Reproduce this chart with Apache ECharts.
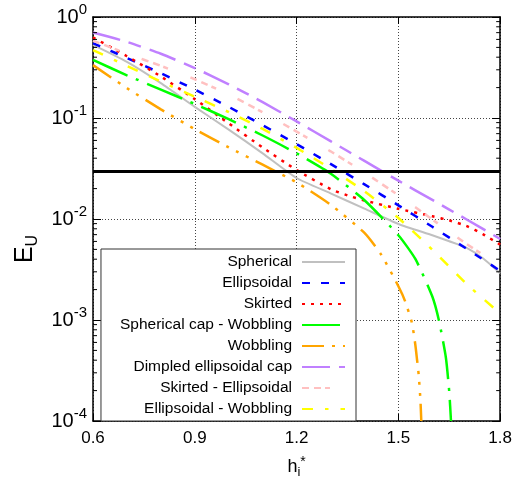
<!DOCTYPE html>
<html>
<head>
<meta charset="utf-8">
<script src="https://cdn.jsdelivr.net/npm/echarts@6/dist/echarts.min.js"></script>
<style>
  html, body { margin: 0; padding: 0; background: #fff; }
  #chart { width: 515px; height: 484px; }
</style>
</head>
<body>
<div id="chart"></div>
<script>
// Dimensionless height h_i* against the error measure E_U, one curve per shape model.
const FONT = '"Liberation Sans", Arial, sans-serif';

const hGrid = [0.6, 0.7, 0.8, 0.9, 1.0, 1.1, 1.2, 1.3, 1.4, 1.5, 1.6, 1.7, 1.8];

const hSpherical = [0.6, 0.7, 0.8, 0.9, 1.0, 1.1, 1.2, 1.3, 1.4, 1.5, 1.6, 1.65, 1.7, 1.75, 1.8];
const euSpherical = [0.5287, 0.3589, 0.2212, 0.1288, 0.0767, 0.0447, 0.02546, 0.01796, 0.01267, 0.00893, 0.0069, 0.00603, 0.00521, 0.00406, 0.0029];

const euEllipsoidal = [0.5507, 0.3927, 0.277, 0.1911, 0.1288, 0.0849, 0.0551, 0.0351, 0.02204, 0.01365, 0.00837, 0.0051, 0.00307];

const hSkirted = [0.6, 0.7, 0.8, 0.9, 1.0, 1.1, 1.2, 1.3, 1.35, 1.4, 1.5, 1.6, 1.65, 1.7, 1.75, 1.8];
const euSkirted = [0.6272, 0.409, 0.2577, 0.1536, 0.0885, 0.051, 0.03055, 0.01978, 0.01713, 0.01527, 0.01261, 0.01065, 0.00969, 0.00854, 0.00705, 0.00557];

const hCapWobbling = [0.6, 0.7, 0.8, 0.9, 1.0, 1.1, 1.2, 1.3, 1.4, 1.5, 1.55, 1.6, 1.62, 1.64, 1.65, 1.655];
const euCapWobbling = [0.3755, 0.2648, 0.1911, 0.1378, 0.0973, 0.0671, 0.0447, 0.02818, 0.01534, 0.0069, 0.00402, 0.001707, 0.000972, 0.000423, 0.000192, 0.0001];

const hWobbling = [0.6, 0.7, 0.8, 0.9, 1.0, 1.1, 1.2, 1.3, 1.4, 1.45, 1.5, 1.52, 1.54, 1.55, 1.555, 1.56, 1.565, 1.5675];
const euWobbling = [0.334, 0.1976, 0.1218, 0.0776, 0.0512, 0.0345, 0.023, 0.01386, 0.00729, 0.0044, 0.00216, 0.00153, 0.00093, 0.000566, 0.000404, 0.000282, 0.00016, 0.0001];

const euDimpled = [0.702, 0.567, 0.4326, 0.3122, 0.2153, 0.1435, 0.0925, 0.059, 0.03758, 0.02396, 0.01545, 0.00995, 0.00634];
const euSkirtedEllipsoidal = [0.5824, 0.4346, 0.3281, 0.242, 0.1708, 0.1138, 0.0733, 0.0468, 0.02882, 0.01717, 0.00989, 0.00569, 0.00343];
const euEllipsoidalWobbling = [0.4703, 0.3281, 0.2298, 0.1621, 0.1144, 0.0779, 0.0506, 0.03153, 0.01878, 0.01023, 0.00497, 0.00229, 0.00116];

const threshold = 0.03;

const xMin = 0.6, xMax = 1.8, xStep = 0.3;
const yMin = 1e-4, yMax = 1;
const minorMultipliers = [2, 3, 4, 5, 6, 7, 8, 9];
const decadeExponents = [-4, -3, -2, -1];

const curves = [
  { name: 'Spherical', h: hSpherical, eu: euSpherical, color: '#c0c0c0', width: 2, dash: 'solid' },
  { name: 'Ellipsoidal', h: hGrid, eu: euEllipsoidal, color: '#0000ff', width: 2.5, dash: [8, 11] },
  { name: 'Skirted', h: hSkirted, eu: euSkirted, color: '#ff0000', width: 2.5, dash: [3, 6] },
  { name: 'Spherical cap - Wobbling', h: hCapWobbling, eu: euCapWobbling, color: '#00ff00', width: 2.5, dash: [38, 9, 3, 9] },
  { name: 'Wobbling', h: hWobbling, eu: euWobbling, color: '#ffa500', width: 2.5, dash: [22, 8, 3, 8, 3, 8, 3, 8] },
  { name: 'Dimpled ellipsoidal cap', h: hGrid, eu: euDimpled, color: '#c080ff', width: 2.5, dash: [28, 9, 13, 9] },
  { name: 'Skirted - Ellipsoidal', h: hGrid, eu: euSkirtedEllipsoidal, color: '#ffc0c0', width: 2.5, dash: [7, 5, 7, 4, 5, 24] },
  { name: 'Ellipsoidal - Wobbling', h: hGrid, eu: euEllipsoidalWobbling, color: '#ffff00', width: 2.5, dash: [11, 12, 3.5, 12, 11, 12] }
];

// Minor tick values of the logarithmic axis (2..9 within each decade)
const minorTickValues = [];
decadeExponents.forEach(function (e) {
  minorMultipliers.forEach(function (m) { minorTickValues.push([xMin, m * Math.pow(10, e)]); });
});

const curveSeries = curves.map(function (c) {
  return {
    name: c.name,
    type: 'line',
    data: c.h.map(function (h, i) { return [h, c.eu[i]]; }),
    showSymbol: false,
    symbol: 'none',
    smooth: 0.2,
    clip: true,
    lineStyle: { color: c.color, width: c.width, type: c.dash },
    itemStyle: { color: c.color },
    emphasis: { disabled: true }
  };
});

const tickLine = { stroke: '#000', lineWidth: 1 };

const option = {
  animation: false,
  backgroundColor: '#fff',
  textStyle: { fontFamily: FONT },
  grid: { left: 93, right: 13, top: 17, bottom: 58, containLabel: false },
  legend: {
    data: curves.map(function (c) { return c.name; }),
    orient: 'vertical',
    align: 'right',
    right: 159,
    top: 249,
    padding: [5, 10, 4, 19],
    itemWidth: 43,
    itemHeight: 14,
    itemGap: 5,
    backgroundColor: '#fff',
    borderColor: '#333',
    borderWidth: 1,
    borderRadius: 0,
    selectedMode: false,
    itemStyle: { opacity: 0 },
    textStyle: { fontFamily: FONT, fontSize: 15.5, color: '#000', padding: [0, 5, 0, 0] }
  },
  xAxis: [
    {
      type: 'value', position: 'bottom', min: xMin, max: xMax, interval: xStep,
      axisLine: { show: true, onZero: false, lineStyle: { color: '#000', width: 1.5 } },
      axisTick: { show: true, inside: true, length: 7, lineStyle: { color: '#000' } },
      axisLabel: {
        color: '#000', fontSize: 17, fontFamily: FONT, margin: 9,
        formatter: function (v) { return v.toFixed(1); }
      },
      splitLine: { show: true, lineStyle: { color: '#444', width: 1, type: [1, 2] } },
      name: '{b|h}{s|i}{p|*}',
      nameLocation: 'middle',
      nameGap: 34,
      nameTextStyle: {
        rich: {
          b: { fontSize: 18, fontFamily: FONT, color: '#000', lineHeight: 24 },
          s: { fontSize: 13, fontFamily: FONT, color: '#000', lineHeight: 12, verticalAlign: 'bottom' },
          p: { fontSize: 14, fontFamily: FONT, color: '#000', lineHeight: 12, verticalAlign: 'top' }
        }
      }
    },
    {
      type: 'value', position: 'top', min: xMin, max: xMax, interval: xStep,
      axisLine: { show: true, onZero: false, lineStyle: { color: '#000', width: 1.5 } },
      axisTick: { show: true, inside: true, length: 7, lineStyle: { color: '#000' } },
      axisLabel: { show: false },
      splitLine: { show: false }
    }
  ],
  yAxis: [
    {
      type: 'log', logBase: 10, position: 'left', min: yMin, max: yMax,
      axisLine: { show: true, onZero: false, lineStyle: { color: '#000', width: 1.5 } },
      axisTick: { show: true, inside: true, length: 8, lineStyle: { color: '#000' } },
      axisLabel: {
        margin: 6,
        formatter: function (v) {
          const e = Math.round(Math.log10(v));
          return '{b|10}{e|' + e + '}';
        },
        rich: {
          b: { fontSize: 20, fontFamily: FONT, color: '#000', lineHeight: 30 },
          e: { fontSize: 15, fontFamily: FONT, color: '#000', lineHeight: 16, verticalAlign: 'top' }
        }
      },
      splitLine: { show: true, lineStyle: { color: '#444', width: 1, type: [1, 2] } },
      name: '{b|E}{s|U}',
      nameLocation: 'middle',
      nameRotate: 90,
      nameGap: 52,
      nameTextStyle: {
        padding: [0, 60, 0, 0],
        rich: {
          b: { fontSize: 25, fontFamily: FONT, color: '#000', lineHeight: 30 },
          s: { fontSize: 16, fontFamily: FONT, color: '#000', lineHeight: 14, verticalAlign: 'bottom' }
        }
      }
    },
    {
      type: 'log', logBase: 10, position: 'right', min: yMin, max: yMax,
      axisLine: { show: true, onZero: false, lineStyle: { color: '#000', width: 1.5 } },
      axisTick: { show: true, inside: true, length: 8, lineStyle: { color: '#000' } },
      axisLabel: { show: false },
      splitLine: { show: false }
    }
  ],
  series: curveSeries.concat([
    {
      name: 'threshold',
      type: 'line',
      data: [],
      markLine: {
        silent: true,
        symbol: ['none', 'none'],
        label: { show: false },
        lineStyle: { color: '#000', width: 3, type: 'solid' },
        data: [{ yAxis: threshold }]
      }
    },
    {
      name: 'minor ticks',
      type: 'custom',
      silent: true,
      z: 5,
      clip: false,
      data: minorTickValues,
      encode: { x: 0, y: 1 },
      renderItem: function (params, api) {
        const v = api.value(1);
        const pl = api.coord([xMin, v]);
        const pr = api.coord([xMax, v]);
        return {
          type: 'group',
          children: [
            { type: 'line', shape: { x1: pl[0], y1: pl[1], x2: pl[0] + 4, y2: pl[1] }, style: tickLine },
            { type: 'line', shape: { x1: pr[0] - 4, y1: pr[1], x2: pr[0], y2: pr[1] }, style: tickLine }
          ]
        };
      }
    }
  ])
};

const chart = echarts.init(document.getElementById('chart'), null, { renderer: 'canvas' });
chart.setOption(option);
</script>
</body>
</html>
